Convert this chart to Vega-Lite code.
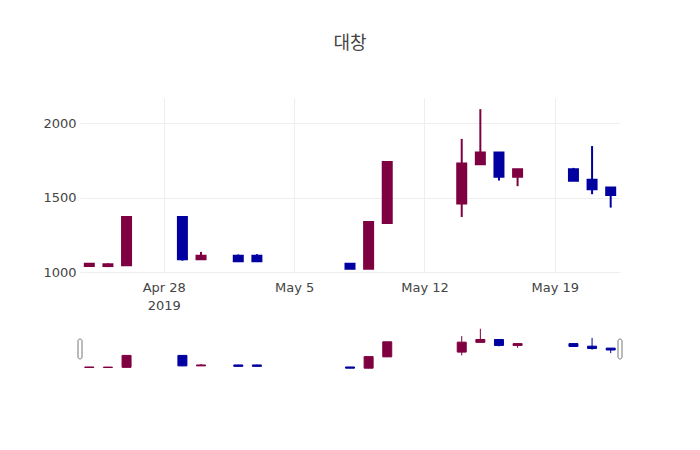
{
  "$schema": "https://vega.github.io/schema/vega-lite/v6.json",
  "padding": {"left": 42, "top": 35, "right": 5, "bottom": 5},
  "bounds": "flush",
  "spacing": 54,
  "background": "white",
  "title": {
    "text": "대창",
    "font": "Noto Sans CJK KR",
    "fontSize": 18,
    "fontWeight": "normal",
    "color": "#444",
    "anchor": "middle",
    "frame": "group",
    "offset": 45
  },
  "config": {
    "view": {"stroke": null},
    "axis": {
      "labelFont": "DejaVu Sans",
      "labelFontSize": 13,
      "labelColor": "#444",
      "gridColor": "#eee",
      "gridWidth": 1,
      "domain": false,
      "ticks": false,
      "title": null
    }
  },
  "data": {
    "values": [
      {"date": "2019-04-24", "open": 1040, "high": 1060, "low": 1035, "close": 1055},
      {"date": "2019-04-25", "open": 1040, "high": 1058, "low": 1033, "close": 1052},
      {"date": "2019-04-26", "open": 1045, "high": 1370, "low": 1045, "close": 1370},
      {"date": "2019-04-29", "open": 1370, "high": 1370, "low": 1076, "close": 1085},
      {"date": "2019-04-30", "open": 1085, "high": 1135, "low": 1085, "close": 1110},
      {"date": "2019-05-02", "open": 1110, "high": 1118, "low": 1067, "close": 1072},
      {"date": "2019-05-03", "open": 1110, "high": 1120, "low": 1068, "close": 1072},
      {"date": "2019-05-08", "open": 1055, "high": 1060, "low": 1020, "close": 1022},
      {"date": "2019-05-09", "open": 1022, "high": 1337, "low": 1022, "close": 1337},
      {"date": "2019-05-10", "open": 1330, "high": 1740, "low": 1326, "close": 1740},
      {"date": "2019-05-14", "open": 1460, "high": 1895, "low": 1370, "close": 1730},
      {"date": "2019-05-15", "open": 1725, "high": 2095, "low": 1725, "close": 1803},
      {"date": "2019-05-16", "open": 1803, "high": 1805, "low": 1615, "close": 1641},
      {"date": "2019-05-17", "open": 1641, "high": 1691, "low": 1577, "close": 1691},
      {"date": "2019-05-20", "open": 1691, "high": 1700, "low": 1612, "close": 1613},
      {"date": "2019-05-21", "open": 1621, "high": 1847, "low": 1523, "close": 1557},
      {"date": "2019-05-22", "open": 1568, "high": 1570, "low": 1433, "close": 1517}
    ]
  },
  "resolve": {"scale": {"x": "independent", "y": "independent", "color": "independent"}},
  "vconcat": [
    {
      "width": 540,
      "height": 174,
      "encoding": {
        "x": {
          "field": "date",
          "type": "temporal",
          "scale": {
            "type": "utc",
            "padding": 0,
            "domain": [
              {"year": 2019, "month": 4, "date": 23, "hours": 12, "utc": true},
              {"year": 2019, "month": 5, "date": 22, "hours": 12, "utc": true}
            ]
          },
          "axis": {
            "values": [
              {"year": 2019, "month": 4, "date": 28, "utc": true},
              {"year": 2019, "month": 5, "date": 5, "utc": true},
              {"year": 2019, "month": 5, "date": 12, "utc": true},
              {"year": 2019, "month": 5, "date": 19, "utc": true}
            ],
            "labelExpr": "utcFormat(datum.value, '%b %-d') == 'Apr 28' ? ['Apr 28', '2019'] : utcFormat(datum.value, '%b %-d')",
            "labelPadding": 9,
            "labelLineHeight": 18,
            "labelFlush": false
          }
        },
        "color": {
          "condition": {"test": "datum.close >= datum.open", "value": "#7f0040"},
          "value": "#0000a0"
        }
      },
      "layer": [
        {
          "mark": {"type": "rule", "strokeWidth": 2},
          "encoding": {
            "y": {
              "field": "low",
              "type": "quantitative",
              "scale": {"domain": [1000, 2170], "nice": false, "zero": false},
              "axis": {"values": [1000, 1500, 2000], "format": "d", "labelPadding": 4}
            },
            "y2": {"field": "high"}
          }
        },
        {
          "mark": {"type": "bar", "size": 9, "strokeWidth": 2},
          "encoding": {
            "y": {"field": "open", "type": "quantitative"},
            "y2": {"field": "close"},
            "stroke": {
              "condition": {"test": "datum.close >= datum.open", "value": "#7f0040"},
              "value": "#0000a0"
            }
          }
        }
      ]
    },
    {
      "width": 540,
      "height": 43,
      "encoding": {
        "x": {
          "field": "date",
          "type": "temporal",
          "axis": null,
          "scale": {
            "type": "utc",
            "padding": 0,
            "domain": [
              {"year": 2019, "month": 4, "date": 23, "hours": 12, "utc": true},
              {"year": 2019, "month": 5, "date": 22, "hours": 12, "utc": true}
            ]
          }
        }
      },
      "layer": [
        {
          "mark": {"type": "rule", "strokeWidth": 1},
          "encoding": {
            "y": {
              "field": "low",
              "type": "quantitative",
              "axis": null,
              "scale": {"domain": [1000, 2170], "nice": false, "zero": false}
            },
            "y2": {"field": "high"},
            "color": {
              "condition": {"test": "datum.close >= datum.open", "value": "#7f0040"},
              "value": "#0000a0"
            }
          }
        },
        {
          "mark": {"type": "bar", "size": 9, "strokeWidth": 1},
          "encoding": {
            "y": {"field": "open", "type": "quantitative"},
            "y2": {"field": "close"},
            "color": {
              "condition": {"test": "datum.close >= datum.open", "value": "#7f0040"},
              "value": "#0000a0"
            },
            "stroke": {
              "condition": {"test": "datum.close >= datum.open", "value": "#7f0040"},
              "value": "#0000a0"
            }
          }
        },
        {
          "data": {
            "values": [
              {"edge": "start", "date": "2019-04-23T12:00:00Z"},
              {"edge": "end", "date": "2019-05-22T12:00:00Z"}
            ]
          },
          "mark": {"type": "bar", "size": 4, "fill": "white", "stroke": "#777", "strokeWidth": 1, "cornerRadius": 2},
          "encoding": {
            "y": {"datum": 1272, "type": "quantitative"},
            "y2": {"datum": 1816}
          }
        }
      ]
    }
  ]
}
